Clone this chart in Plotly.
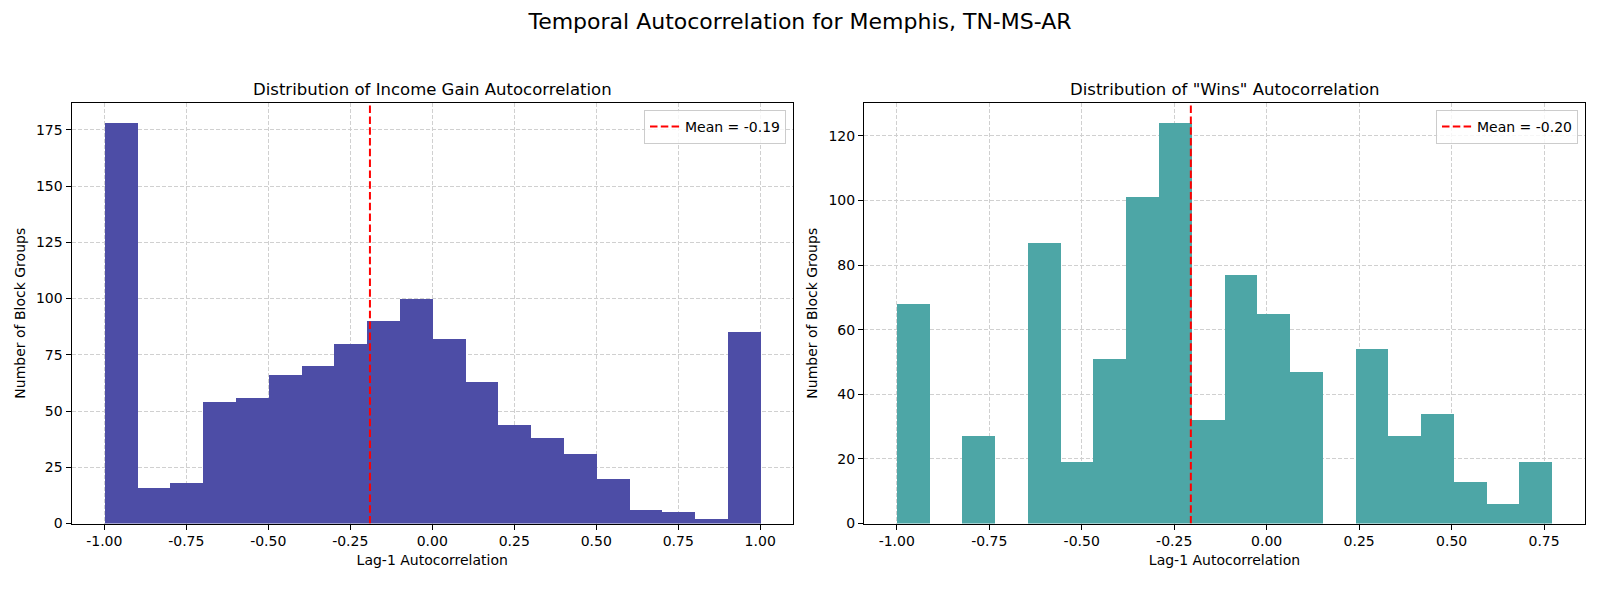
import numpy as np
import plotly.graph_objects as go
from plotly.subplots import make_subplots

# counts (20 bins each)
income_counts = [178, 16, 18, 54, 56, 66, 70, 80, 90, 100,
                 82, 63, 44, 38, 31, 20, 6, 5, 2, 85]
income_range = [-1.0, 1.0]
income_mean = -0.19

wins_counts = [68, 0, 27, 0, 87, 19, 51, 101, 124, 32,
               77, 65, 47, 0, 54, 27, 34, 13, 6, 19]
wins_range = [-1.0, 0.772]
wins_mean = -0.205

x_ticks = [-1.0, -0.75, -0.5, -0.25, 0.0, 0.25, 0.5, 0.75, 1.0]
income_yticks = [0, 25, 50, 75, 100, 125, 150, 175]
wins_yticks = [0, 20, 40, 60, 80, 100, 120]

FONT = "DejaVu Sans"
W, H = 1600, 600
OFF = 8  # page body margin shifts the plot by this many px


def px_x(p):
    return (p - OFF) / W


def px_y(p):
    return 1 - (p - OFF) / H


def bins(rng, counts):
    edges = np.linspace(rng[0], rng[1], len(counts) + 1)
    centers = (edges[:-1] + edges[1:]) / 2
    width = edges[1] - edges[0]
    return centers, width


fig = make_subplots(rows=1, cols=2,
                    subplot_titles=("Distribution of Income Gain Autocorrelation",
                                    'Distribution of "Wins" Autocorrelation'))

c, w = bins(income_range, income_counts)
fig.add_trace(go.Bar(x=c, y=income_counts, width=w, marker_color="rgb(77,77,166)",
                     marker_line_width=0, showlegend=False), row=1, col=1)
c2, w2 = bins(wins_range, wins_counts)
fig.add_trace(go.Bar(x=c2, y=wins_counts, width=w2, marker_color="rgb(77,166,166)",
                     marker_line_width=0, showlegend=False), row=1, col=2)

ymax1 = max(income_counts) * 1.05
ymax2 = max(wins_counts) * 1.05

fig.add_trace(go.Scatter(x=[income_mean, income_mean], y=[0, ymax1], mode="lines",
                         line=dict(color="red", dash="7.5px,3.3px", width=2),
                         name="Mean = %.2f" % income_mean, legend="legend"), row=1, col=1)
fig.add_trace(go.Scatter(x=[wins_mean, wins_mean], y=[0, ymax2], mode="lines",
                         line=dict(color="red", dash="7.5px,3.3px", width=2),
                         name="Mean = %.2f" % -0.20, legend="legend2"), row=1, col=2)

ax = dict(showline=True, linecolor="black", linewidth=1, mirror=True,
          ticks="outside", ticklen=5, tickcolor="black", automargin=False,
          showgrid=True, gridcolor="#d0d0d0", griddash="4px,2px", gridwidth=1,
          zeroline=False, tickfont=dict(size=14, color="black"),
          title_font=dict(size=14, color="black"))

dom1 = [px_x(71.5), px_x(793)]
dom2 = [px_x(864), px_x(1585)]
span1 = income_range[1] - income_range[0]
span2 = wins_range[1] - wins_range[0]
fig.update_xaxes(ax, row=1, col=1, domain=dom1,
                 range=[income_range[0] - span1 * 0.05, income_range[1] + span1 * 0.05],
                 tickvals=x_ticks, ticktext=["%.2f" % t for t in x_ticks],
                 title_text="Lag-1 Autocorrelation", title_standoff=6)
fig.update_xaxes(ax, row=1, col=2, domain=dom2,
                 range=[wins_range[0] - span2 * 0.05, wins_range[1] + span2 * 0.05],
                 tickvals=x_ticks[:-1], ticktext=["%.2f" % t for t in x_ticks[:-1]],
                 title_text="Lag-1 Autocorrelation", title_standoff=6)
fig.update_yaxes(ax, row=1, col=1, range=[0, ymax1], tickvals=income_yticks,
                 title_text="Number of Block Groups", title_standoff=7)
fig.update_yaxes(ax, row=1, col=2, range=[0, ymax2], tickvals=wins_yticks,
                 title_text="Number of Block Groups", title_standoff=7)
fig.update_yaxes(domain=[px_y(523.5), px_y(103)])

for ann, dom in zip(fig.layout.annotations, [dom1, dom2]):
    ann.font = dict(size=16.5, color="black", family=FONT)
    ann.x = (dom[0] + dom[1]) / 2
    ann.xanchor = "center"
    ann.y = px_y(101)
    ann.yanchor = "bottom"

leg = dict(xanchor="right", yanchor="top", xref="paper", yref="paper",
           bgcolor="rgba(255,255,255,0.8)", bordercolor="#cccccc", borderwidth=1,
           font=dict(size=14, color="black"))
fig.update_layout(
    width=W, height=H,
    title=dict(text="Temporal Autocorrelation for Memphis, TN-MS-AR", x=px_x(800),
               y=px_y(21), xanchor="center", yanchor="middle",
               font=dict(size=22, color="black", family=FONT)),
    font=dict(family=FONT, color="black"),
    plot_bgcolor="white", paper_bgcolor="white",
    bargap=0, margin=dict(l=0, r=0, t=0, b=0, autoexpand=False),
    legend=dict(leg, x=px_x(786), y=px_y(110)),
    legend2=dict(leg, x=px_x(1578), y=px_y(110)),
)

fig.write_html("out.html")
